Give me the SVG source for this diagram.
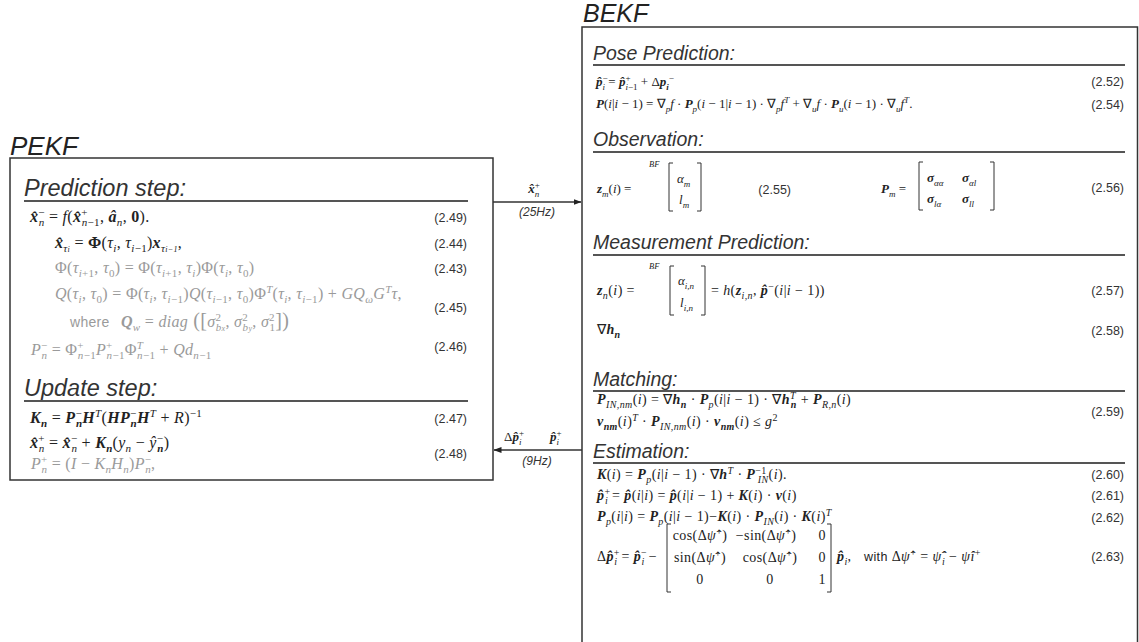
<svg xmlns="http://www.w3.org/2000/svg" width="1139" height="642" viewBox="0 0 1139 642">
<defs>
<marker id="ah" markerWidth="8" markerHeight="6" refX="7.5" refY="3" orient="auto" markerUnits="userSpaceOnUse"><path d="M0,0 L8,3 L0,6 z" fill="#222"/></marker>
<style>
.t{font-family:"Liberation Sans",Arial,sans-serif;font-style:italic;font-size:25px;fill:#222}
.h{font-family:"Liberation Sans",Arial,sans-serif;font-style:italic;font-size:19.5px;fill:#333}
.n{font-family:"Liberation Sans",Arial,sans-serif;font-size:12.5px;fill:#333;text-anchor:end}
.m{font-family:"Liberation Serif","Times New Roman",serif;font-size:13px;fill:#222;font-style:italic}
.g{fill:#9a9a9a}
.r{font-style:normal}
.i{font-style:italic}
.b{font-weight:bold}
.sb{font-size:9px;baseline-shift:-3.5px}
.sp{font-size:9px;baseline-shift:5px}
.ss{font-size:6.5px}
.w{font-family:"Liberation Sans",Arial,sans-serif;font-style:normal;font-size:12.5px}
.P .t{font-size:26px}
.P .h{font-size:23.5px}
.P .m{font-size:16px;letter-spacing:0.3px}
.P .sb{font-size:11px;baseline-shift:-4px}
.P .sp{font-size:11px;baseline-shift:6px}
.P .ss{font-size:8px}
.P .w{font-size:14px}
.m14{font-size:14px;letter-spacing:0.4px}
.m14 .sb{font-size:10px;baseline-shift:-3.5px}
.m14 .sp{font-size:10px;baseline-shift:5.5px}
.ul{stroke:#555;stroke-width:2}
.box{fill:none;stroke:#333;stroke-width:1.5}
.br{fill:none;stroke:#333;stroke-width:1}
.arr{stroke:#333;stroke-width:1.3}
.hz{font-family:"Liberation Sans",Arial,sans-serif;font-style:italic;font-size:12px;fill:#333;text-anchor:middle}
</style>
</defs>
<rect width="1139" height="642" fill="#ffffff"/>

<g id="pekf" class="P">
<text class="t" x="10" y="155">PEKF</text>
<rect class="box" x="10" y="158" width="483" height="322"/>
<text class="h" x="24" y="196">Prediction step:</text>
<line class="ul" x1="24" y1="201" x2="468" y2="201"/>
<text class="m" x="30" y="222"><tspan class="b">x̂</tspan><tspan class="sp r">−</tspan><tspan class="sb" dx="-6">n</tspan><tspan class="r"> = </tspan>f<tspan class="r">(</tspan><tspan class="b">x̂</tspan><tspan class="sp r">+</tspan><tspan class="sb" dx="-6">n<tspan class="r">−1</tspan></tspan><tspan class="r">, </tspan><tspan class="b">â</tspan><tspan class="sb">n</tspan><tspan class="r">, </tspan><tspan class="b r">0</tspan><tspan class="r">).</tspan></text>
<text class="m" x="55" y="248"><tspan class="b">x̂</tspan><tspan class="sb">τ<tspan class="ss">i</tspan></tspan><tspan class="r"> = </tspan><tspan class="b r">Φ</tspan><tspan class="r">(</tspan>τ<tspan class="sb">i</tspan><tspan class="r">, </tspan>τ<tspan class="sb">i<tspan class="r">−1</tspan></tspan><tspan class="r">)</tspan><tspan class="b">x</tspan><tspan class="sb">τ<tspan class="ss">i−1</tspan></tspan><tspan class="r">,</tspan></text>
<text class="m g" x="55" y="273"><tspan class="r">Φ(</tspan>τ<tspan class="sb">i<tspan class="r">+1</tspan></tspan><tspan class="r">, </tspan>τ<tspan class="sb r">0</tspan><tspan class="r">) = Φ(</tspan>τ<tspan class="sb">i<tspan class="r">+1</tspan></tspan><tspan class="r">, </tspan>τ<tspan class="sb">i</tspan><tspan class="r">)Φ(</tspan>τ<tspan class="sb">i</tspan><tspan class="r">, </tspan>τ<tspan class="sb r">0</tspan><tspan class="r">)</tspan></text>
<text class="m g" x="55" y="299">Q<tspan class="r">(</tspan>τ<tspan class="sb">i</tspan><tspan class="r">, </tspan>τ<tspan class="sb r">0</tspan><tspan class="r">) = Φ(</tspan>τ<tspan class="sb">i</tspan><tspan class="r">, </tspan>τ<tspan class="sb">i<tspan class="r">−1</tspan></tspan><tspan class="r">)</tspan>Q<tspan class="r">(</tspan>τ<tspan class="sb">i<tspan class="r">−1</tspan></tspan><tspan class="r">, </tspan>τ<tspan class="sb r">0</tspan><tspan class="r">)Φ</tspan><tspan class="sp">T</tspan><tspan class="r">(</tspan>τ<tspan class="sb">i</tspan><tspan class="r">, </tspan>τ<tspan class="sb">i<tspan class="r">−1</tspan></tspan><tspan class="r">) + </tspan>GQ<tspan class="sb">ω</tspan>G<tspan class="sp">T</tspan>τ<tspan class="r">,</tspan></text>
<text class="m g" x="70" y="327"><tspan class="w">where</tspan><tspan class="r" dx="7"> </tspan><tspan class="b">Q</tspan><tspan class="sb">w</tspan><tspan class="r"> = </tspan>diag<tspan class="r" style="font-size:20px"> ([</tspan>σ<tspan class="sp r">2</tspan><tspan class="sb" dx="-5.5">b<tspan class="ss">x</tspan></tspan><tspan class="r">, </tspan>σ<tspan class="sp r">2</tspan><tspan class="sb" dx="-5.5">b<tspan class="ss">y</tspan></tspan><tspan class="r">, </tspan>σ<tspan class="sp r">2</tspan><tspan class="sb r" dx="-5.5">1</tspan><tspan class="r" style="font-size:20px">])</tspan></text>
<text class="m g" x="31" y="355">P<tspan class="sp r">−</tspan><tspan class="sb" dx="-6">n</tspan><tspan class="r"> = Φ</tspan><tspan class="sp r">+</tspan><tspan class="sb" dx="-6">n<tspan class="r">−1</tspan></tspan>P<tspan class="sp r">+</tspan><tspan class="sb" dx="-6">n<tspan class="r">−1</tspan></tspan><tspan class="r">Φ</tspan><tspan class="sp">T</tspan><tspan class="sb" dx="-6">n<tspan class="r">−1</tspan></tspan><tspan class="r"> + </tspan>Qd<tspan class="sb">n<tspan class="r">−1</tspan></tspan></text>
<text class="n" x="467" y="222">(2.49)</text>
<text class="n" x="467" y="248">(2.44)</text>
<text class="n" x="467" y="273">(2.43)</text>
<text class="n" x="467" y="312">(2.45)</text>
<text class="n" x="467" y="351">(2.46)</text>

<text class="h" x="24" y="396">Update step:</text>
<line class="ul" x1="24" y1="401" x2="468" y2="401"/>
<text class="m" x="30" y="423"><tspan class="b">K</tspan><tspan class="sb b">n</tspan><tspan class="r"> = </tspan><tspan class="b">P</tspan><tspan class="sp r">−</tspan><tspan class="sb b" dx="-6">n</tspan><tspan class="b">H</tspan><tspan class="sp">T</tspan><tspan class="r">(</tspan><tspan class="b">HP</tspan><tspan class="sp r">−</tspan><tspan class="sb b" dx="-6">n</tspan><tspan class="b">H</tspan><tspan class="sp">T</tspan><tspan class="r"> + </tspan>R<tspan class="r">)</tspan><tspan class="sp r">−1</tspan></text>
<text class="m" x="30" y="448"><tspan class="b">x̂</tspan><tspan class="sp r">+</tspan><tspan class="sb" dx="-6">n</tspan><tspan class="r"> = </tspan><tspan class="b">x̂</tspan><tspan class="sp r">−</tspan><tspan class="sb" dx="-6">n</tspan><tspan class="r"> + </tspan><tspan class="b">K</tspan><tspan class="sb b">n</tspan><tspan class="r">(</tspan>y<tspan class="sb">n</tspan><tspan class="r"> − </tspan>ŷ<tspan class="sp r">−</tspan><tspan class="sb b" dx="-6">n</tspan><tspan class="r">)</tspan></text>
<text class="m g" x="31" y="469">P<tspan class="sp r">+</tspan><tspan class="sb" dx="-6">n</tspan><tspan class="r"> = (</tspan>I<tspan class="r"> − </tspan>K<tspan class="sb">n</tspan>H<tspan class="sb">n</tspan><tspan class="r">)</tspan>P<tspan class="sp r">−</tspan><tspan class="sb" dx="-6">n</tspan><tspan class="r">,</tspan></text>
<text class="n" x="467" y="423">(2.47)</text>
<text class="n" x="467" y="458">(2.48)</text>
</g>

<g id="connectors">
<line class="arr" x1="493" y1="202" x2="581" y2="202" marker-end="url(#ah)"/>
<line class="arr" x1="582" y1="450" x2="494" y2="450" marker-end="url(#ah)"/>
<text class="m" x="534" y="193" text-anchor="middle"><tspan class="b">x̂</tspan><tspan class="sp r">+</tspan><tspan class="sb" dx="-5">n</tspan></text>
<text class="hz" x="537" y="216">(25Hz)</text>
<text class="m" x="504" y="441"><tspan class="r">Δ</tspan><tspan class="b">p̂</tspan><tspan class="sp r">+</tspan><tspan class="sb" dx="-5">i</tspan></text>
<text class="m" x="550" y="441"><tspan class="b">p̂</tspan><tspan class="sp r">+</tspan><tspan class="sb" dx="-5">i</tspan></text>
<text class="hz" x="537" y="465">(9Hz)</text>
</g>

<g id="bekf">
<text class="t" x="583" y="22">BEKF</text>
<path class="box" d="M582,642 V27 H1137.5 V642"/>

<text class="h" x="593" y="60">Pose Prediction:</text>
<line class="ul" x1="593" y1="65" x2="1125" y2="65"/>
<text class="m" x="596" y="86"><tspan class="b">p̂</tspan><tspan class="sp r">−</tspan><tspan class="sb" dx="-5">i</tspan><tspan class="r"> = </tspan><tspan class="b">p̂</tspan><tspan class="sp r">+</tspan><tspan class="sb" dx="-5">i<tspan class="r">−1</tspan></tspan><tspan class="r"> + Δ</tspan><tspan class="b">p</tspan><tspan class="sb b">i</tspan><tspan class="sp r">−</tspan></text>
<text class="m" x="596" y="108"><tspan class="b">P</tspan><tspan class="r">(</tspan>i<tspan class="r">|</tspan>i<tspan class="r"> − 1) = ∇</tspan><tspan class="sb">p</tspan>f<tspan class="r"> · </tspan><tspan class="b">P</tspan><tspan class="sb">p</tspan><tspan class="r">(</tspan>i<tspan class="r"> − 1|</tspan>i<tspan class="r"> − 1) · ∇</tspan><tspan class="sb">p</tspan>f<tspan class="sp">T</tspan><tspan class="r"> + ∇</tspan><tspan class="sb">u</tspan>f<tspan class="r"> · </tspan><tspan class="b">P</tspan><tspan class="sb">u</tspan><tspan class="r">(</tspan>i<tspan class="r"> − 1) · ∇</tspan><tspan class="sb">u</tspan>f<tspan class="sp">T</tspan><tspan class="r">.</tspan></text>
<text class="n" x="1124" y="86">(2.52)</text>
<text class="n" x="1124" y="109">(2.54)</text>

<text class="h" x="593" y="146">Observation:</text>
<line class="ul" x1="593" y1="152" x2="1125" y2="152"/>
<text class="m" x="597" y="193"><tspan class="b">z</tspan><tspan class="sb">m</tspan><tspan class="r">(</tspan>i<tspan class="r">) =</tspan></text>
<text class="m" x="649" y="167" style="font-size:8.5px">BF</text>
<path class="br" d="M673,163 h-4 v48 h4 M697,163 h4 v48 h-4"/>
<text class="m" x="677" y="183">α<tspan class="sb">m</tspan></text>
<text class="m" x="679" y="204">l<tspan class="sb">m</tspan></text>
<text class="n" x="791" y="194">(2.55)</text>
<text class="m" x="881" y="193"><tspan class="b">P</tspan><tspan class="sb">m</tspan><tspan class="r"> =</tspan></text>
<path class="br" d="M923,162 h-4 v48 h4 M990,162 h4 v48 h-4"/>
<text class="m" x="927" y="182"><tspan class="b">σ</tspan><tspan class="sb">αα</tspan></text>
<text class="m" x="962" y="182"><tspan class="b">σ</tspan><tspan class="sb">αl</tspan></text>
<text class="m" x="927" y="203"><tspan class="b">σ</tspan><tspan class="sb">lα</tspan></text>
<text class="m" x="962" y="203"><tspan class="b">σ</tspan><tspan class="sb">ll</tspan></text>
<text class="n" x="1124" y="192">(2.56)</text>

<text class="h" x="593" y="249">Measurement Prediction:</text>
<line class="ul" x1="593" y1="255" x2="1125" y2="255"/>
<text class="m m14" x="597" y="295"><tspan class="b">z</tspan><tspan class="sb">n</tspan><tspan class="r">(</tspan>i<tspan class="r">) =</tspan></text>
<text class="m" x="649" y="269" style="font-size:8.5px">BF</text>
<path class="br" d="M674,266 h-4 v49 h4 M701,266 h4 v49 h-4"/>
<text class="m" x="678" y="285">α<tspan class="sb">i,n</tspan></text>
<text class="m" x="680" y="307">l<tspan class="sb">i,n</tspan></text>
<text class="m m14" x="711" y="295"><tspan class="r">= </tspan>h<tspan class="r">(</tspan><tspan class="b">z</tspan><tspan class="sb">i,n</tspan><tspan class="r">, </tspan><tspan class="b">p̂</tspan><tspan class="sp r">−</tspan><tspan class="r">(</tspan>i<tspan class="r">|</tspan>i<tspan class="r"> − 1))</tspan></text>
<text class="n" x="1124" y="295">(2.57)</text>
<text class="m m14" x="597" y="334"><tspan class="r">∇</tspan><tspan class="b">h</tspan><tspan class="sb b">n</tspan></text>
<text class="n" x="1124" y="335">(2.58)</text>

<text class="h" x="593" y="386">Matching:</text>
<line class="ul" x1="593" y1="391" x2="1125" y2="391"/>
<text class="m m14" x="597" y="404"><tspan class="b">P</tspan><tspan class="sb">IN,nm</tspan><tspan class="r">(</tspan>i<tspan class="r">) = ∇</tspan><tspan class="b">h</tspan><tspan class="sb b">n</tspan><tspan class="r"> · </tspan><tspan class="b">P</tspan><tspan class="sb">p</tspan><tspan class="r">(</tspan>i<tspan class="r">|</tspan>i<tspan class="r"> − 1) · ∇</tspan><tspan class="b">h</tspan><tspan class="sp">T</tspan><tspan class="sb b" dx="-5">n</tspan><tspan class="r"> + </tspan><tspan class="b">P</tspan><tspan class="sb">R,n</tspan><tspan class="r">(</tspan>i<tspan class="r">)</tspan></text>
<text class="m m14" x="597" y="426"><tspan class="b">ν</tspan><tspan class="sb b">nm</tspan><tspan class="r">(</tspan>i<tspan class="r">)</tspan><tspan class="sp">T</tspan><tspan class="r"> · </tspan><tspan class="b">P</tspan><tspan class="sb">IN,nm</tspan><tspan class="r">(</tspan>i<tspan class="r">) · </tspan><tspan class="b">ν</tspan><tspan class="sb b">nm</tspan><tspan class="r">(</tspan>i<tspan class="r">) ≤ </tspan>g<tspan class="sp r">2</tspan></text>
<text class="n" x="1124" y="416">(2.59)</text>

<text class="h" x="593" y="458">Estimation:</text>
<line class="ul" x1="593" y1="463" x2="1125" y2="463"/>
<text class="m m14" x="597" y="479"><tspan class="b">K</tspan><tspan class="r">(</tspan>i<tspan class="r">) = </tspan><tspan class="b">P</tspan><tspan class="sb">p</tspan><tspan class="r">(</tspan>i<tspan class="r">|</tspan>i<tspan class="r"> − 1) · ∇</tspan><tspan class="b">h</tspan><tspan class="sp">T</tspan><tspan class="r"> · </tspan><tspan class="b">P</tspan><tspan class="sp r">−1</tspan><tspan class="sb" dx="-9">IN</tspan><tspan class="r">(</tspan>i<tspan class="r">).</tspan></text>
<text class="n" x="1124" y="479">(2.60)</text>
<text class="m m14" x="597" y="500"><tspan class="b">p̂</tspan><tspan class="sp r">+</tspan><tspan class="sb" dx="-5.5">i</tspan><tspan class="r"> = </tspan><tspan class="b">p̂</tspan><tspan class="r">(</tspan>i<tspan class="r">|</tspan>i<tspan class="r">) = </tspan><tspan class="b">p̂</tspan><tspan class="r">(</tspan>i<tspan class="r">|</tspan>i<tspan class="r"> − 1) + </tspan><tspan class="b">K</tspan><tspan class="r">(</tspan>i<tspan class="r">) · </tspan><tspan class="b">ν</tspan><tspan class="r">(</tspan>i<tspan class="r">)</tspan></text>
<text class="n" x="1124" y="500">(2.61)</text>
<text class="m m14" x="597" y="521"><tspan class="b">P</tspan><tspan class="sb">p</tspan><tspan class="r">(</tspan>i<tspan class="r">|</tspan>i<tspan class="r">) = </tspan><tspan class="b">P</tspan><tspan class="sb">p</tspan><tspan class="r">(</tspan>i<tspan class="r">|</tspan>i<tspan class="r"> − 1)−</tspan><tspan class="b">K</tspan><tspan class="r">(</tspan>i<tspan class="r">) · </tspan><tspan class="b">P</tspan><tspan class="sb">IN</tspan><tspan class="r">(</tspan>i<tspan class="r">) · </tspan><tspan class="b">K</tspan><tspan class="r">(</tspan>i<tspan class="r">)</tspan><tspan class="sp">T</tspan></text>
<text class="n" x="1124" y="522">(2.62)</text>

<text class="m m14" x="597" y="561"><tspan class="r">Δ</tspan><tspan class="b">p̂</tspan><tspan class="sp r">+</tspan><tspan class="sb" dx="-5.5">i</tspan><tspan class="r"> = </tspan><tspan class="b">p̂</tspan><tspan class="sp r">−</tspan><tspan class="sb" dx="-5.5">i</tspan><tspan class="r"> −</tspan></text>
<path class="br" d="M671,524 h-4 v68 h4 M827,524 h4 v68 h-4"/>
<text class="m m14 r" x="700" y="540" text-anchor="middle">cos(Δ<tspan class="i">ψ̂</tspan><tspan class="sp">+</tspan>)</text>
<text class="m m14 r" x="766" y="540" text-anchor="middle">−sin(Δ<tspan class="i">ψ̂</tspan><tspan class="sp">+</tspan>)</text>
<text class="m m14 r" x="826" y="540" text-anchor="end">0</text>
<text class="m m14 r" x="700" y="562" text-anchor="middle">sin(Δ<tspan class="i">ψ̂</tspan><tspan class="sp">+</tspan>)</text>
<text class="m m14 r" x="770" y="562" text-anchor="middle">cos(Δ<tspan class="i">ψ̂</tspan><tspan class="sp">+</tspan>)</text>
<text class="m m14 r" x="826" y="562" text-anchor="end">0</text>
<text class="m m14 r" x="700" y="584" text-anchor="middle">0</text>
<text class="m m14 r" x="770" y="584" text-anchor="middle">0</text>
<text class="m m14 r" x="826" y="584" text-anchor="end">1</text>
<text class="m m14" x="837" y="561"><tspan class="b">p̂</tspan><tspan class="sb">i</tspan><tspan class="r">,</tspan></text>
<text class="m m14" x="864" y="561"><tspan class="w">with </tspan><tspan class="r">Δ</tspan>ψ̂<tspan class="sp r">+</tspan><tspan class="r"> = </tspan>ψ̂<tspan class="sp r">−</tspan><tspan class="sb" dx="-5.5">i</tspan><tspan class="r"> − </tspan>ψ̂i<tspan class="sp r">+</tspan></text>
<text class="n" x="1124" y="561">(2.63)</text>
</g>
</svg>
